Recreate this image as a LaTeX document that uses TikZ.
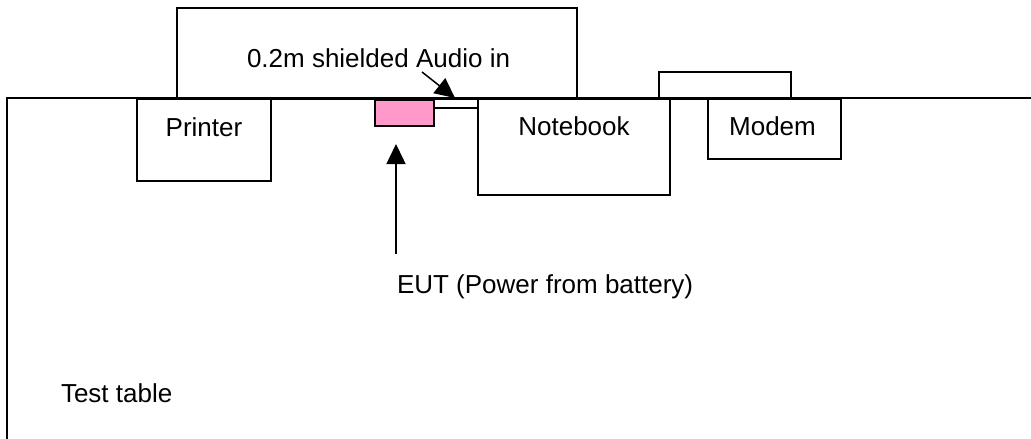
\documentclass[tikz,border=0pt]{standalone}
\usepackage{fontspec}
\setmainfont{Liberation Sans}
\usepackage{tikz}
\usetikzlibrary{arrows.meta,positioning}
\definecolor{EutPink}{HTML}{FF99CC}

\begin{document}
\begin{tikzpicture}[x=1pt, y=-1pt, line width=2pt,
  font=\fontsize{26}{31}\selectfont,
  unit/.style={draw, rectangle, inner sep=0pt, anchor=north west},
  lbl/.style={inner sep=0pt, anchor=base west},
  pointer/.style={line width=1.5pt, -{Triangle[length=#1, width=19pt]}}]
  \useasboundingbox (0,0) rectangle (1031,439);
  % test table
  \draw (1031,98) -- (7,98) -- (7,441);
  \node[lbl] (table) at (60,402) {Test table};
  % units on the table
  \node[unit, minimum width=400pt, minimum height=91pt] (shield) at (176,7) {};
  \node[unit, minimum width=134pt, minimum height=82pt] (printer) at (136,98) {};
  \node[unit, minimum width=192pt, minimum height=96pt] (notebook) at (477,98) {};
  \node[unit, minimum width=133pt, minimum height=60pt] (modem) at (707,98) {};
  \node[unit, minimum width=132pt, minimum height=27pt] (modemtop) at (658,71) {};
  \node[unit, fill=EutPink, minimum width=59pt, minimum height=26pt] (eut) at (374,99) {};
  \node[anchor=base, inner sep=0pt] at ([yshift=-38pt]printer.north) {Printer};
  \node[anchor=base, inner sep=0pt] at ([yshift=-37pt]notebook.north) {Notebook};
  \node[anchor=base, inner sep=0pt] at ([xshift=-2pt, yshift=-37pt]modem.north) {Modem};
  % audio cable
  \coordinate (jack) at ([yshift=-9pt]eut.north east);
  \draw (jack) -- (jack -| notebook.west);
  \node[lbl] (audio) at (246,67) {0.2m shielded Audio in};
  \coordinate (audiotail) at (422,72);
  \coordinate (audiotip) at (455,98);
  \draw[pointer=20pt] (audiotail) -- (audiotip);
  % EUT
  \node[lbl] (eutlbl) at (396,293) {EUT (Power from battery)};
  \coordinate (euttail) at (396,254);
  \coordinate (euttip) at (396,144);
  \draw[pointer=20pt] (euttail) -- (euttip);
\end{tikzpicture}
\end{document}
